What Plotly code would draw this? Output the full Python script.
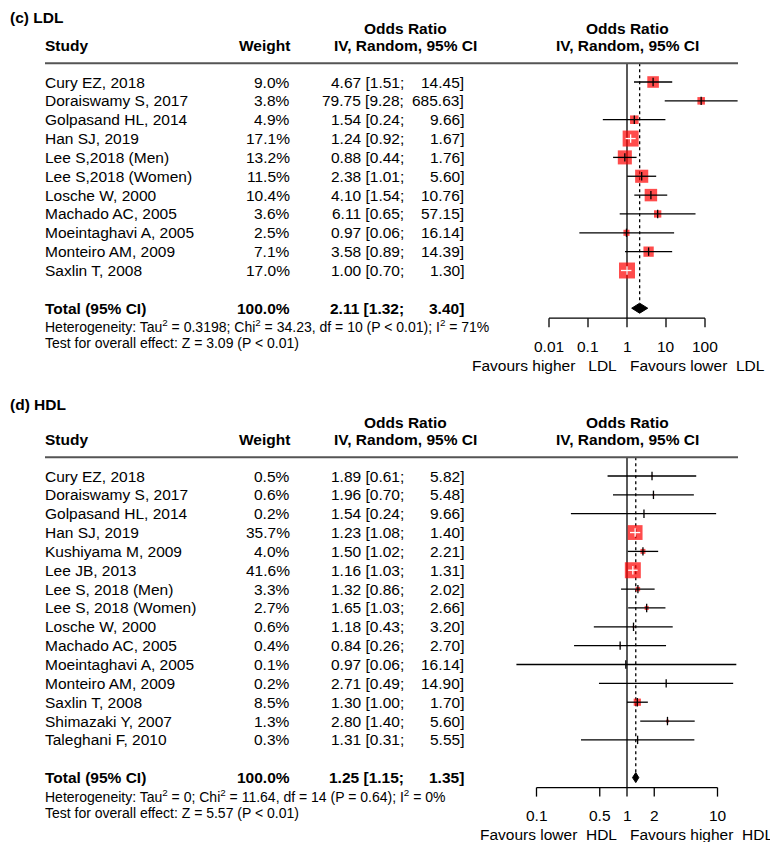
import numpy as np
import plotly.graph_objects as go

# ---------------- DATA ----------------
ldl_study = ["Cury EZ, 2018", "Doraiswamy S, 2017", "Golpasand HL, 2014", "Han SJ, 2019",
             "Lee S,2018 (Men)", "Lee S,2018 (Women)", "Losche W, 2000", "Machado AC, 2005",
             "Moeintaghavi A, 2005", "Monteiro AM, 2009", "Saxlin T, 2008"]
ldl_weight = [9.0, 3.8, 4.9, 17.1, 13.2, 11.5, 10.4, 3.6, 2.5, 7.1, 17.0]
ldl_or = [4.67, 79.75, 1.54, 1.24, 0.88, 2.38, 4.10, 6.11, 0.97, 3.58, 1.00]
ldl_lo = [1.51, 9.28, 0.24, 0.92, 0.44, 1.01, 1.54, 0.65, 0.06, 0.89, 0.70]
ldl_hi = [14.45, 685.63, 9.66, 1.67, 1.76, 5.60, 10.76, 57.15, 16.14, 14.39, 1.30]
ldl_total = [2.11, 1.32, 3.40]
ldl_het = "Heterogeneity: Tau<sup>2</sup> = 0.3198; Chi<sup>2</sup> = 34.23, df = 10 (P < 0.01); I<sup>2</sup> = 71%"
ldl_test = "Test for overall effect: Z = 3.09 (P < 0.01)"
ldl_ticks = [0.01, 0.1, 1, 10, 100]
ldl_ticklabels = ["0.01", "0.1", "1", "10", "100"]
ldl_labels = ["Favours higher\u00a0\u00a0\u00a0LDL", "Favours lower\u00a0\u00a0LDL"]

hdl_study = ["Cury EZ, 2018", "Doraiswamy S, 2017", "Golpasand HL, 2014", "Han SJ, 2019",
             "Kushiyama M, 2009", "Lee JB, 2013", "Lee S, 2018 (Men)", "Lee S, 2018 (Women)",
             "Losche W, 2000", "Machado AC, 2005", "Moeintaghavi A, 2005", "Monteiro AM, 2009",
             "Saxlin T, 2008", "Shimazaki Y, 2007", "Taleghani F, 2010"]
hdl_weight = [0.5, 0.6, 0.2, 35.7, 4.0, 41.6, 3.3, 2.7, 0.6, 0.4, 0.1, 0.2, 8.5, 1.3, 0.3]
hdl_or = [1.89, 1.96, 1.54, 1.23, 1.50, 1.16, 1.32, 1.65, 1.18, 0.84, 0.97, 2.71, 1.30, 2.80, 1.31]
hdl_lo = [0.61, 0.70, 0.24, 1.08, 1.02, 1.03, 0.86, 1.03, 0.43, 0.26, 0.06, 0.49, 1.00, 1.40, 0.31]
hdl_hi = [5.82, 5.48, 9.66, 1.40, 2.21, 1.31, 2.02, 2.66, 3.20, 2.70, 16.14, 14.90, 1.70, 5.60, 5.55]
hdl_total = [1.25, 1.15, 1.35]
hdl_het = "Heterogeneity: Tau<sup>2</sup> = 0; Chi<sup>2</sup> = 11.64, df = 14 (P = 0.64); I<sup>2</sup> = 0%"
hdl_test = "Test for overall effect: Z = 5.57 (P < 0.01)"
hdl_ticks = [0.1, 0.5, 1, 2, 10]
hdl_ticklabels = ["0.1", "0.5", "1", "2", "10"]
hdl_labels = ["Favours lower\u00a0\u00a0HDL", "Favours higher\u00a0\u00a0HDL"]

# ---------------- LAYOUT CONSTANTS ----------------
OFF = 8                      # page body margin of the html page
W, H = 778 - OFF, 842 - OFF  # figure size
FONT = "Liberation Sans, Arial, Helvetica, sans-serif"
FS = 15.5
FS_SMALL = 14
PITCH = 18.85
SPLIT = 394
MAXBOX = 16.0


def px(x):
    return (x - OFF) / W


def py(y):
    return 1 - (y - OFF) / H


fig = go.Figure()
annotations = []
shapes = []


def panel(study, weight, orv, lo, hi, total, het, test, ticks, ticklabels, labels,
          title, title_dy, xa, ya, ppd, one_px, base_px, top_px, bot_px):
    n = len(study)
    rows = list(range(n))
    tot_row = n + 1
    axis_row = tot_row + 10 / PITCH
    xaxis_name = "xaxis" if xa == "x" else "xaxis" + xa[1:]
    yaxis_name = "yaxis" if ya == "y" else "yaxis" + ya[1:]
    xl, xr = 470, 775
    rng = [(xl - one_px) / ppd, (xr - one_px) / ppd]
    fig.layout[xaxis_name] = dict(type="log", range=rng, domain=[px(xl), px(xr)],
                                  visible=False, anchor=ya, fixedrange=True)
    yr = [(bot_px - base_px) / PITCH, (top_px - base_px) / PITCH]
    fig.layout[yaxis_name] = dict(range=yr, domain=[py(bot_px), py(top_px)], visible=False,
                                  anchor=xa, fixedrange=True)

    # reference line at 1 and dotted line at overall estimate
    dh = 5 / PITCH
    fig.add_trace(go.Scatter(x=[1, 1], y=[-1, axis_row], mode="lines",
                             line=dict(color="black", width=1.3),
                             xaxis=xa, yaxis=ya, hoverinfo="skip", showlegend=False))
    fig.add_trace(go.Scatter(x=[total[0], total[0]], y=[-1, tot_row - dh], mode="lines",
                             line=dict(color="black", width=1.3, dash="dot"),
                             xaxis=xa, yaxis=ya, hoverinfo="skip", showlegend=False))

    # squares (area proportional to weight)
    wmax = max(weight)
    sizes = [MAXBOX * np.sqrt(w / wmax) for w in weight]
    fig.add_trace(go.Scatter(x=orv, y=rows, mode="markers",
                             marker=dict(symbol="square", size=sizes, color="#ff0000",
                                         line=dict(width=0)),
                             xaxis=xa, yaxis=ya, hoverinfo="skip", showlegend=False))
    # CI lines: white when CI lies inside the box
    bx, by, wx, wy = [], [], [], []
    bt_x, bt_y, wt_x, wt_y = [], [], [], []
    for i in range(n):
        half = sizes[i] / 2 / ppd
        e = np.log10(orv[i])
        inside = (np.log10(lo[i]) >= e - half) and (np.log10(hi[i]) <= e + half)
        if inside:
            wx += [lo[i], hi[i], None]; wy += [i, i, None]
            wt_x.append(orv[i]); wt_y.append(i)
        else:
            bx += [lo[i], hi[i], None]; by += [i, i, None]
            bt_x.append(orv[i]); bt_y.append(i)
    for xs, ys, tx, ty, col in [(bx, by, bt_x, bt_y, "black"), (wx, wy, wt_x, wt_y, "white")]:
        if xs:
            fig.add_trace(go.Scatter(x=xs, y=ys, mode="lines", line=dict(color=col, width=1.3),
                                     xaxis=xa, yaxis=ya, hoverinfo="skip", showlegend=False))
            fig.add_trace(go.Scatter(x=tx, y=ty, mode="markers",
                                     marker=dict(symbol="line-ns", size=6,
                                                 line=dict(color=col, width=1.3)),
                                     xaxis=xa, yaxis=ya, hoverinfo="skip", showlegend=False))
    # diamond
    fig.add_trace(go.Scatter(x=[total[1], total[0], total[2], total[0], total[1]],
                             y=[tot_row, tot_row - dh, tot_row, tot_row + dh, tot_row],
                             mode="lines", fill="toself", fillcolor="black",
                             line=dict(color="black", width=1),
                             xaxis=xa, yaxis=ya, hoverinfo="skip", showlegend=False))
    # axis
    tl = 9 / PITCH
    axx = [ticks[0], ticks[-1], None]
    axy = [axis_row, axis_row, None]
    for t in ticks:
        axx += [t, t, None]; axy += [axis_row, axis_row + tl, None]
    fig.add_trace(go.Scatter(x=axx, y=axy, mode="lines", line=dict(color="black", width=1.3),
                             xaxis=xa, yaxis=ya, hoverinfo="skip", showlegend=False))
    for t, lab in zip(ticks, ticklabels):
        annotations.append(dict(x=np.log10(t), y=axis_row + 28 / PITCH, xref=xa, yref=ya,
                                text=lab, showarrow=False, xanchor="center", yanchor="middle",
                                font=dict(size=FS, family=FONT, color="black")))
    lab_row = axis_row + 47 / PITCH
    annotations.append(dict(x=np.log10(1) - 8 / ppd, y=lab_row, xref=xa, yref=ya, text=labels[0],
                            showarrow=False, xanchor="right", yanchor="middle",
                            font=dict(size=FS, family=FONT, color="black")))
    annotations.append(dict(x=np.log10(1) + 1 / ppd, y=lab_row, xref=xa, yref=ya, text=labels[1],
                            showarrow=False, xanchor="left", yanchor="middle",
                            font=dict(size=FS, family=FONT, color="black")))

    # header and text columns
    def txt(x, y, s, anchor, bold=False, size=FS):
        annotations.append(dict(x=px(x), y=y, xref="paper", yref=ya,
                                text=f"<b>{s}</b>" if bold else s,
                                showarrow=False, xanchor=anchor, yanchor="middle",
                                font=dict(size=size, family=FONT, color="black")))
    txt(OFF, title_dy / PITCH, title, "left", True)
    txt(405, -54 / PITCH, "Odds Ratio", "center", True)
    txt(627, -54 / PITCH, "Odds Ratio", "center", True)
    txt(43, -37 / PITCH, "Study", "left", True)
    txt(292, -37 / PITCH, "Weight", "right", True)
    txt(405, -37 / PITCH, "IV, Random, 95% CI", "center", True)
    txt(627, -37 / PITCH, "IV, Random, 95% CI", "center", True)
    shapes.append(dict(type="line", xref="paper", yref=ya, x0=px(45), x1=px(738), y0=-1, y1=-1,
                       line=dict(color="#555555", width=2)))
    for i in range(n):
        txt(43, i, study[i], "left")
        txt(292, i, f"{weight[i]:.1f}%", "right")
        txt(406, i, f"{orv[i]:.2f} [{lo[i]:.2f};", "right")
        txt(466, i, f"{hi[i]:.2f}]", "right")
    txt(43, tot_row, "Total (95% CI)", "left", True)
    txt(292, tot_row, f"{100.0:.1f}%", "right", True)
    txt(406, tot_row, f"{total[0]:.2f} [{total[1]:.2f};", "right", True)
    txt(466, tot_row, f"{total[2]:.2f}]", "right", True)
    txt(43, tot_row + 18 / PITCH, het, "left", False, FS_SMALL)
    txt(43, tot_row + 35 / PITCH, test, "left", False, FS_SMALL)


panel(ldl_study, ldl_weight, ldl_or, ldl_lo, ldl_hi, ldl_total, ldl_het, ldl_test,
      ldl_ticks, ldl_ticklabels, ldl_labels, "(c) LDL", -65, "x", "y",
      39.0, 627, 82, OFF, SPLIT)
panel(hdl_study, hdl_weight, hdl_or, hdl_lo, hdl_hi, hdl_total, hdl_het, hdl_test,
      hdl_ticks, hdl_ticklabels, hdl_labels, "(d) HDL", -72, "x2", "y2",
      90.5, 627, 476, SPLIT, 842)

fig.update_layout(width=W, height=H, margin=dict(l=0, r=0, t=0, b=0),
                  paper_bgcolor="white", plot_bgcolor="rgba(0,0,0,0)",
                  showlegend=False, annotations=annotations, shapes=shapes,
                  font=dict(family=FONT, size=FS, color="black"))
fig.write_html("out.html")
